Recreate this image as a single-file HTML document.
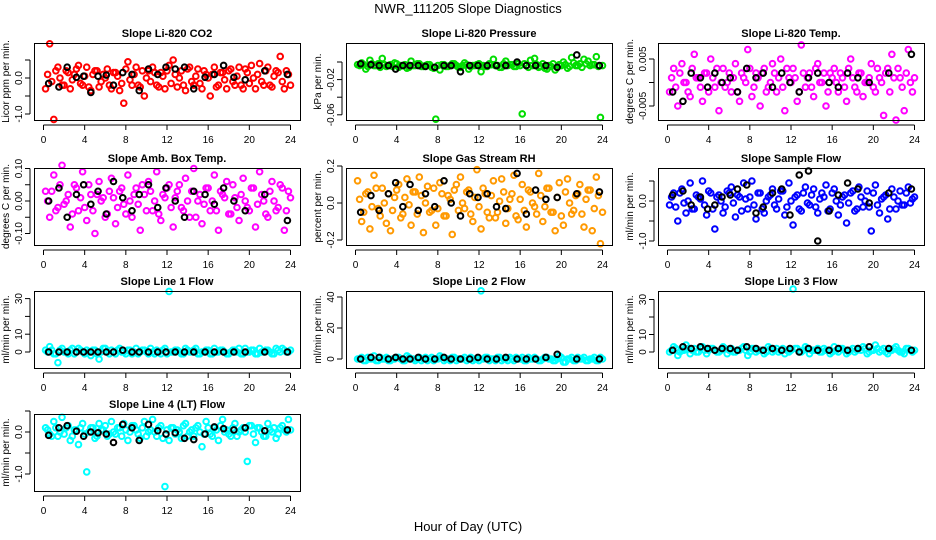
<!DOCTYPE html>
<html><head><meta charset="utf-8"><style>
html,body{margin:0;padding:0;background:#fff;}
svg{display:block;font-family:"Liberation Sans",Arial,sans-serif;}
</style></head><body>
<svg id="chart" width="936" height="540" viewBox="0 0 936 540" xmlns="http://www.w3.org/2000/svg">
<text x="468" y="13" text-anchor="middle" font-size="13">NWR_111205  Slope Diagnostics</text>
<text x="468" y="531" text-anchor="middle" font-size="13">Hour of Day (UTC)</text>
</svg>
<script>
const hoursAll = [0.2,0.6,1.0,1.4,1.8,2.2,2.6,3.0,3.4,3.8,4.2,4.6,5.0,5.4,5.8,6.2,6.6,7.0,7.4,7.8,8.2,8.6,9.0,9.4,9.8,10.2,10.6,11.0,11.4,11.8,12.2,12.6,13.0,13.4,13.8,14.2,14.6,15.0,15.4,15.8,16.2,16.6,17.0,17.4,17.8,18.2,18.6,19.0,19.4,19.8,20.2,20.6,21.0,21.4,21.8,22.2,22.6,23.0,23.4,23.8];
const hoursCore = [0.4,0.8,1.2,1.6,2.0,2.4,2.8,3.2,3.6,4.0,4.4,4.8,5.2,5.6,6.0,6.4,6.8,7.2,7.6,8.0,8.4,8.8,9.2,9.6,10.0,10.4,10.8,11.2,11.6,12.0,12.4,12.8,13.2,13.6,14.0,14.4,14.8,15.2,15.6,16.0,16.4,16.8,17.2,17.6,18.0,18.4,18.8,19.2,19.6,20.0,20.4,20.8,21.2,21.6,22.0,22.4,22.8,23.2,23.6,24.0];
const hoursRef = [0.5,1.5,2.3,3.2,3.9,4.6,5.3,6.1,6.8,7.7,8.6,9.3,10.2,11.1,11.9,12.8,13.7,14.6,15.7,16.6,17.5,18.5,19.6,21.5,23.7];
const xTicks = [0,4,8,12,16,20,24];

const co2All = [-0.3,0.95,-1.15,0.3,-0.2,0.2,-0.3,0.1,0.35,-0.2,0.3,-0.35,0.2,-0.25,0.1,0.25,-0.3,0.15,-0.35,-0.7,0.45,-0.2,0.3,-0.25,-0.5,0.2,0.3,-0.2,0.15,-0.3,0.35,0.5,-0.25,0.2,-0.35,0.3,-0.2,0.25,-0.3,0.1,-0.5,0.3,-0.2,0.15,-0.3,0.25,-0.2,0.3,-0.3,0.15,0.35,-0.3,0.4,-0.2,0.3,-0.25,0.2,0.6,-0.3,0.1];
const co2Core = [0.1,-0.1,0.2,0.0,-0.2,0.15,-0.05,0.25,-0.15,0.05,-0.25,0.1,0.2,-0.1,0.0,-0.2,0.15,0.05,-0.15,0.25,-0.05,0.1,-0.2,0.2,0.0,-0.1,0.15,-0.25,0.05,0.2,-0.15,0.1,0.0,-0.2,0.25,-0.1,0.05,-0.15,0.2,0.0,0.1,-0.25,0.15,-0.05,0.2,-0.1,0.05,-0.2,0.25,-0.15,0.0,0.1,-0.1,0.2,-0.2,0.05,0.15,-0.1,0.2,-0.2];
const co2Ref = [-0.15,-0.25,0.3,0.02,0.05,-0.4,0.05,0.08,-0.2,0.15,0.1,-0.35,0.25,0.1,0.3,0.25,0.3,-0.3,0.02,0.1,0.35,0.02,-0.05,0.2,0.1];
const presAll = [-0.003,-0.001,-0.008,0.002,-0.004,-0.002,0.004,-0.005,-0.003,-0.001,-0.006,-0.004,-0.007,0.001,-0.004,-0.002,-0.005,-0.003,-0.006,-0.065,-0.009,-0.003,-0.005,-0.002,-0.004,-0.006,-0.001,-0.008,-0.004,-0.003,-0.011,-0.005,-0.002,0.003,-0.004,-0.006,0.001,-0.003,-0.005,-0.002,-0.059,-0.004,0.002,0.004,-0.006,-0.002,-0.008,-0.005,-0.009,-0.003,0.000,-0.007,0.005,-0.004,-0.002,0.003,0.001,-0.003,0.006,-0.063];
const presCore = [-0.004,-0.003,-0.005,-0.002,-0.004,-0.006,-0.003,-0.004,-0.005,-0.002,-0.004,-0.003,-0.006,-0.004,-0.002,-0.005,-0.004,-0.003,-0.007,-0.004,-0.003,-0.005,-0.004,-0.002,-0.006,-0.004,-0.003,-0.005,-0.004,-0.002,-0.004,-0.005,-0.003,-0.004,-0.006,-0.002,-0.004,-0.003,-0.005,-0.004,-0.002,-0.006,-0.004,-0.003,-0.005,-0.007,-0.004,-0.002,-0.006,-0.004,-0.003,-0.005,-0.001,-0.004,-0.006,-0.002,-0.004,-0.003,-0.005,-0.004];
const presRef = [-0.002,-0.003,-0.004,-0.004,-0.008,-0.004,-0.004,-0.004,-0.005,-0.006,-0.004,-0.004,-0.011,-0.004,-0.004,-0.004,-0.004,-0.004,0.000,-0.004,-0.004,-0.004,-0.006,0.008,-0.004];
const tempAll = [-0.002,0.003,-0.005,0.004,0.000,-0.003,0.006,0.001,-0.004,0.002,0.005,-0.001,-0.006,0.003,0.000,-0.002,0.004,-0.004,0.001,0.007,-0.003,0.002,-0.005,0.003,-0.001,0.004,-0.002,0.005,-0.006,0.001,0.003,-0.004,0.008,-0.001,0.002,-0.003,0.004,0.000,-0.005,0.002,0.003,-0.002,0.001,-0.004,0.005,-0.001,0.002,-0.003,0.000,0.004,-0.002,0.001,-0.007,0.003,0.006,-0.008,0.001,-0.006,0.007,-0.002];
const tempCore = [0.001,-0.001,0.002,0.000,-0.002,0.003,0.001,-0.001,0.002,-0.002,0.001,0.003,0.000,-0.001,0.002,0.001,-0.002,0.002,0.000,0.003,-0.001,0.001,0.002,-0.002,0.000,0.002,0.001,-0.001,0.003,0.000,0.001,-0.002,0.002,0.001,-0.001,0.003,0.000,0.002,-0.002,0.001,0.000,0.002,-0.001,0.003,0.001,-0.002,0.002,0.000,0.001,-0.001,0.003,0.000,0.002,-0.002,0.001,0.003,-0.001,0.002,0.000,0.001];
const tempRef = [-0.002,-0.004,0.002,0.001,-0.001,0.002,0.000,0.001,-0.002,0.003,0.001,0.002,-0.001,0.002,0.000,-0.002,0.001,0.002,0.000,-0.001,0.002,0.001,0.000,0.002,0.006];
const boxAll = [0.03,-0.05,0.08,-0.02,0.11,0.00,-0.08,0.05,-0.03,0.09,-0.06,0.02,-0.1,0.06,0.01,-0.04,0.07,-0.07,0.03,-0.01,0.08,-0.05,0.04,-0.09,0.02,0.06,-0.03,0.09,-0.06,0.01,0.05,-0.08,0.03,-0.02,0.07,-0.05,0.1,0.00,-0.07,0.04,-0.03,0.08,-0.09,0.02,0.06,-0.04,0.01,-0.06,0.07,-0.02,0.04,-0.08,0.09,0.00,-0.05,0.06,-0.03,0.05,-0.09,0.03];
const boxCore = [0.0,0.03,-0.03,0.05,-0.01,0.02,-0.04,0.04,0.01,-0.02,0.05,-0.03,0.02,0.0,-0.05,0.03,0.01,-0.02,0.04,-0.04,0.0,0.02,-0.01,0.05,-0.03,0.03,0.0,-0.04,0.02,0.04,-0.02,0.01,0.05,-0.03,0.0,0.03,-0.05,0.02,-0.01,0.04,0.0,-0.03,0.03,0.01,-0.04,0.05,-0.02,0.02,0.0,-0.03,0.04,-0.01,0.02,-0.04,0.03,0.0,-0.02,0.04,-0.03,0.01];
const boxRef = [0.0,0.04,-0.05,0.02,0.05,-0.01,0.03,-0.04,0.06,0.01,-0.03,0.02,0.05,-0.02,0.04,0.0,-0.05,0.03,0.02,-0.01,0.04,0.0,-0.03,0.02,-0.06];
const rhAll = [0.12,-0.1,0.05,-0.14,0.15,-0.03,0.08,-0.11,-0.15,0.03,0.1,-0.06,0.13,-0.12,0.06,0.14,-0.16,0.09,-0.04,-0.12,0.11,-0.07,0.04,-0.17,0.1,0.14,-0.03,0.07,-0.1,0.18,-0.14,0.05,-0.08,0.12,-0.05,0.13,-0.11,0.02,0.15,-0.09,0.1,-0.13,0.06,-0.02,0.16,-0.1,0.08,-0.05,-0.15,0.11,-0.12,0.13,-0.06,0.04,0.1,-0.13,0.07,-0.15,0.14,-0.22];
const rhCore = [0.02,-0.05,0.06,-0.02,0.08,-0.07,0.0,0.05,-0.04,0.07,-0.08,0.03,-0.01,0.06,-0.06,0.04,0.0,-0.05,0.08,-0.03,0.05,-0.07,0.02,0.07,-0.04,0.0,0.06,-0.06,0.03,-0.02,0.08,-0.05,0.04,-0.08,0.01,0.06,-0.03,0.05,-0.07,0.02,-0.04,0.07,0.0,-0.06,0.04,-0.02,0.08,-0.05,0.03,-0.07,0.06,0.0,-0.04,0.05,-0.06,0.02,0.07,-0.03,0.04,-0.05];
const rhRef = [-0.05,0.04,-0.04,0.05,0.11,-0.02,0.10,-0.04,0.05,-0.02,0.12,0.0,-0.07,0.05,0.03,0.05,-0.02,-0.03,0.16,-0.06,0.07,0.02,0.03,0.05,0.06];
const flowAll = [-0.1,0.2,-0.5,0.3,-0.3,0.45,-0.2,0.1,0.5,-0.35,0.2,-0.7,0.15,-0.3,0.25,0.35,-0.4,0.1,0.45,-0.2,0.5,-0.45,0.2,-0.3,0.1,0.3,-0.2,0.25,-0.35,0.45,-0.6,0.15,-0.25,0.35,-0.1,0.3,-0.3,0.2,0.4,-0.2,0.3,-0.35,0.1,-0.55,0.2,-0.25,0.35,-0.15,0.25,-0.75,0.4,-0.3,0.1,-0.45,0.3,-0.2,0.25,-0.1,0.35,0.05];
const flowCore = [0.1,-0.15,0.2,-0.05,0.0,-0.2,0.15,0.05,-0.1,0.25,-0.2,0.1,0.0,-0.15,0.2,-0.05,0.15,-0.25,0.05,0.1,-0.1,0.2,-0.2,0.0,0.15,-0.1,0.05,0.25,-0.15,0.0,0.1,-0.2,0.2,-0.05,0.15,-0.15,0.05,0.1,-0.25,0.2,0.0,-0.1,0.15,-0.05,0.25,-0.2,0.1,0.0,-0.15,0.2,-0.1,0.05,0.15,-0.2,0.1,0.0,-0.1,0.2,-0.05,0.1];
const flowRef = [0.15,0.25,-0.1,0.1,-0.2,-0.1,0.1,0.15,0.3,0.4,-0.3,-0.15,0.2,0.3,-0.35,0.65,0.75,-1.0,-0.25,0.15,0.45,0.3,-0.05,0.2,0.3];
const l1All = [1,3,-1,-6,2,0,1,-1,2,0,1,-2,1,-4,2,0,1,-1,2,0,1,-1,2,0,1,-1,0,1,-1,2,34,0,1,-1,2,0,1,-1,0,1,-1,2,0,1,-1,0,1,2,-1,0,1,-1,2,0,1,-1,2,0,1,0];
const l1Core = [0,1,-1,1,0,-1,2,0,1,-1,0,1,-1,0,2,-1,0,1,0,-1,1,0,-1,1,0,2,-1,0,1,-1,0,1,0,-1,1,0,2,-1,0,1,-1,0,1,0,-1,1,0,-1,2,0,1,-1,0,1,0,-1,1,2,0,1];
const l1Ref = [0,0,0,0,0,0,0,0,0,1,0,0,0,0,0,0,0,0,0,0,0,0,0,0,0];
const l2All = [0,1,-1,0,2,-1,0,1,-1,0,1,-1,2,0,-1,1,0,-1,1,0,2,-1,0,1,-1,0,1,0,-1,0,44,1,-1,0,1,-1,0,1,-1,0,1,-1,0,1,-1,0,1,0,-1,2,-2,0,1,-1,0,1,-1,0,-1,1];
const l2Core = [0,-1,1,0,-1,1,0,-1,0,1,0,-1,1,0,0,-1,1,0,-1,0,1,0,-1,1,0,0,-1,1,0,-1,0,1,0,-1,1,0,-1,0,1,0,-1,1,0,0,-1,1,0,-1,0,1,-2,0,-1,1,0,-1,0,1,-1,0];
const l2Ref = [0,1,1,0,1,0,0,1,0,0,1,0,0,0,1,0,0,1,0,0,0,1,3,0,0];
const l3All = [0,3,-2,1,4,-1,2,0,3,-1,2,1,0,3,-1,2,0,1,3,-2,2,0,1,-1,3,0,2,1,-1,0,36,2,0,3,-1,1,2,0,1,-1,3,0,2,-1,1,0,2,3,-1,1,4,0,2,-1,1,3,0,-1,2,0];
const l3Core = [1,2,0,1,2,1,0,2,1,1,2,0,1,2,1,0,1,2,1,0,2,1,1,0,2,1,0,2,1,1,2,0,1,2,1,1,0,2,1,0,1,2,1,0,2,1,1,2,0,1,2,1,0,1,2,1,0,2,1,1];
const l3Ref = [1,3,2,3,2,1,2,2,1,3,2,1,2,1,2,0,2,1,1,2,1,2,3,2,1];
const l4All = [0.1,-0.05,0.25,-0.1,0.35,0.1,-0.2,0.05,-0.3,0.2,-0.95,0.1,-0.15,0.2,0.05,-0.1,0.25,-0.05,0.1,0.2,-0.2,0.15,0.05,-0.15,0.25,0.0,0.3,-0.1,0.15,-1.3,-0.2,0.1,0.05,-0.15,0.2,0.0,-0.1,0.15,-0.35,0.25,-0.05,0.1,-0.2,0.3,0.05,-0.1,0.2,0.0,0.1,-0.7,0.15,-0.25,0.1,-0.1,0.2,0.0,-0.15,0.1,0.05,0.3];
const l4Core = [0.05,-0.1,0.1,0.0,-0.05,0.15,-0.1,0.05,0.1,-0.05,0.0,0.1,-0.1,0.05,0.15,-0.05,0.0,0.1,-0.1,0.05,0.0,0.15,-0.05,0.1,-0.1,0.05,0.0,0.1,-0.15,0.05,0.1,-0.05,0.0,0.15,-0.1,0.05,0.1,0.0,-0.05,0.1,-0.1,0.05,0.15,0.0,-0.05,0.1,-0.1,0.05,0.0,0.15,-0.05,0.1,0.0,-0.1,0.05,0.1,-0.05,0.15,0.0,0.05];
const l4Ref = [-0.08,0.1,0.15,0.02,-0.1,0.0,-0.02,-0.05,-0.25,0.18,0.1,-0.2,0.18,0.03,-0.05,-0.02,-0.15,-0.18,-0.05,0.12,0.08,0.05,0.1,0.03,0.05];

const colX = [34, 346, 658], rowY = [43, 168, 291, 414], boxW = 266, boxH = 77;
const panels = [
 {name:'co2',title:'Slope Li-820 CO2',yt:'Licor ppm per min.',col:0,row:0,p0:78,ppu:36,ticks:[-1,-0.5,0,0.5],labels:{'-1':'-1.0','0':'0.0'},color:'#ff0000',all:co2All,core:co2Core,ref:co2Ref},
 {name:'pressure',title:'Slope Li-820 Pressure',yt:'kPa per min.',col:1,row:0,p0:62,ppu:880,ticks:[-0.06,-0.04,-0.02,0],labels:{'-0.06':'-0.06','-0.02':'-0.02'},color:'#00dd00',all:presAll,core:presCore,ref:presRef},
 {name:'temp',title:'Slope Li-820 Temp.',yt:'degrees C per min.',col:2,row:0,p0:82.5,ppu:4700,ticks:[-0.005,0,0.005],labels:{'-0.005':'-0.005','0.005':'0.005'},color:'#ff00ff',all:tempAll,core:tempCore,ref:tempRef},
 {name:'box-temp',title:'Slope Amb. Box Temp.',yt:'degrees C per min.',col:0,row:1,p0:201,ppu:325,ticks:[-0.1,-0.05,0,0.05,0.1],labels:{'-0.1':'-0.10','0':'0.00','0.1':'0.10'},color:'#ff00ff',all:boxAll,core:boxCore,ref:boxRef},
 {name:'rh',title:'Slope Gas Stream RH',yt:'percent per min.',col:1,row:1,p0:203,ppu:185,ticks:[-0.2,0,0.2],labels:{'-0.2':'-0.2','0':'0.0','0.2':'0.2'},color:'#ff9900',all:rhAll,core:rhCore,ref:rhRef},
 {name:'sample-flow',title:'Slope Sample Flow',yt:'ml/min per min.',col:2,row:1,p0:201,ppu:40,ticks:[-1,-0.5,0,0.5],labels:{'-1':'-1.0','0':'0.0'},color:'#0000ff',all:flowAll,core:flowCore,ref:flowRef},
 {name:'line1-flow',title:'Slope Line 1 Flow',yt:'ml/min per min.',col:0,row:2,p0:352,ppu:1.78,ticks:[0,10,20,30],labels:{'0':'0','10':'10','30':'30'},color:'#00ffff',all:l1All,core:l1Core,ref:l1Ref},
 {name:'line2-flow',title:'Slope Line 2 Flow',yt:'ml/min per min.',col:1,row:2,p0:359,ppu:1.55,ticks:[0,20,40],labels:{'0':'0','20':'20','40':'40'},color:'#00ffff',all:l2All,core:l2Core,ref:l2Ref},
 {name:'line3-flow',title:'Slope Line 3 Flow',yt:'ml/min per min.',col:2,row:2,p0:352,ppu:1.75,ticks:[0,10,20,30],labels:{'0':'0','10':'10','30':'30'},color:'#00ffff',all:l3All,core:l3Core,ref:l3Ref},
 {name:'line4-flow',title:'Slope Line 4 (LT) Flow',yt:'ml/min per min.',col:0,row:3,p0:432,ppu:42,ticks:[-1,-0.5,0,0.5],labels:{'-1':'-1.0','0':'0.0'},color:'#00ffff',all:l4All,core:l4Core,ref:l4Ref}
];
const svg = document.getElementById('chart');
const NS = 'http://www.w3.org/2000/svg';
function mk(tag, attrs, parent){ const e=document.createElementNS(NS,tag); for(const k in attrs) e.setAttribute(k,attrs[k]); (parent||svg).appendChild(e); return e; }

panels.forEach(p=>{
  const bx=colX[p.col], by=rowY[p.row];
  const x0=bx+9.5, x1=bx+256.5;
  const xs=h=>x0+(x1-x0)*h/24;
  const ys=v=>p.p0-v*p.ppu;
  const g=mk('g',{});
  
  
  const t=mk('text',{x:bx+boxW/2,y:by-6,'text-anchor':'middle','font-size':'11','font-weight':'bold'},g);
  t.textContent=p.title;
  
  
  const yt=mk('text',{transform:`translate(${bx-25},${by+boxH/2}) rotate(-90)`,'text-anchor':'middle','font-size':'10'},g);
  yt.textContent=p.yt;
  
  
  const xa=mk('g',{},g);
  
  
  mk('line',{x1:xs(0),x2:xs(24),y1:by+boxH+5,y2:by+boxH+5,stroke:'#000','stroke-width':1},xa);
  xTicks.forEach(h=>{
    mk('line',{x1:xs(h),x2:xs(h),y1:by+boxH+5,y2:by+boxH+10,stroke:'#000','stroke-width':1},xa);
    const l=mk('text',{x:xs(h),y:by+boxH+23,'text-anchor':'middle','font-size':'10'},xa);
    l.textContent=String(h);
    
    
  });
  const ya=mk('g',{},g);
  
  
  const tv=p.ticks.map(ys);
  mk('line',{x1:bx-4,x2:bx-4,y1:Math.min(...tv),y2:Math.max(...tv),stroke:'#000','stroke-width':1},ya);
  p.ticks.forEach(v=>{
    mk('line',{x1:bx-9,x2:bx-4,y1:ys(v),y2:ys(v),stroke:'#000','stroke-width':1},ya);
    const lab=p.labels[String(v)];
    if(lab){
      const l=mk('text',{transform:`translate(${bx-12},${ys(v)}) rotate(-90)`,'text-anchor':'middle','font-size':'10'},ya);
      l.textContent=lab;
      
      
    }
  });
  const cp=mk('svg',{x:0,y:0,width:936,height:540,overflow:'visible'},g);
  const s1=mk('g',{fill:'none',stroke:p.color,'stroke-width':2},cp);
  
  
  p.all.forEach((v,i)=>{
    const c=mk('circle',{cx:xs(hoursAll[i]),cy:ys(v),r:2.8},s1);
    
    
  });
  p.core.forEach((v,i)=>{
    const c=mk('circle',{cx:xs(hoursCore[i]),cy:ys(v),r:2.8},s1);
    
    
  });
  const s2=mk('g',{fill:'none',stroke:'#000','stroke-width':2},cp);
  
  
  p.ref.forEach((v,i)=>{
    const c=mk('circle',{cx:xs(hoursRef[i]),cy:ys(v),r:2.8},s2);
    
    
  });
  const box=mk('rect',{x:bx+0.5,y:by+0.5,width:boxW,height:boxH,fill:'none',stroke:'#000','stroke-width':1},g);
  
  
});
</script>
</body></html>
